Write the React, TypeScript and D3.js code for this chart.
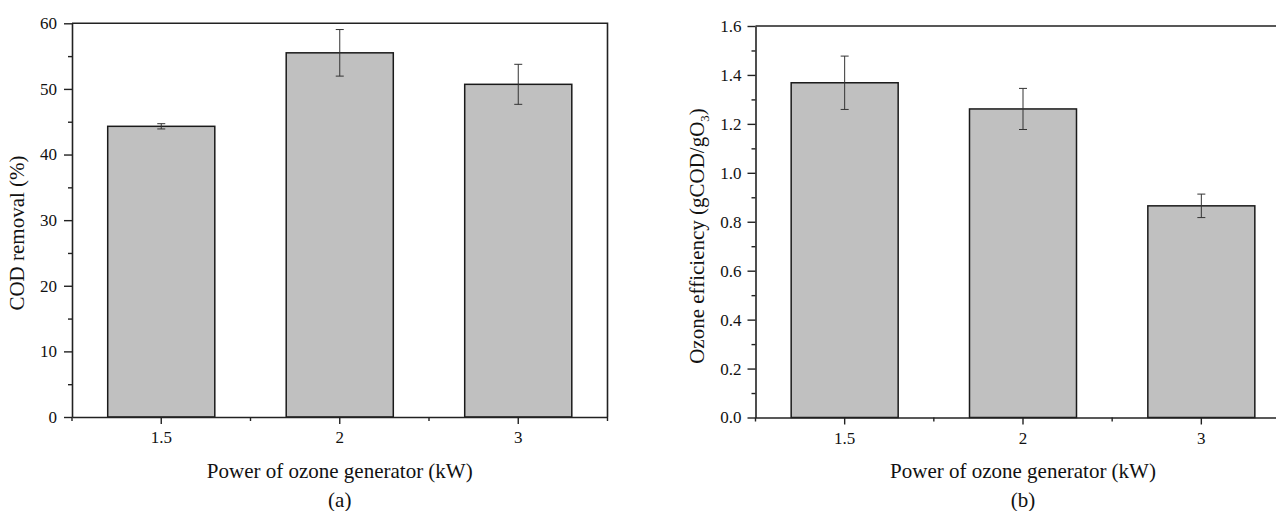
import React, { useEffect, useRef } from 'react';
import * as d3 from 'd3';

const categories = ['1.5', '2', '3'];
const codRemoval = [44.3, 55.5, 50.7];
const codError = [0.4, 3.55, 3.05];
const ozoneEfficiency = [1.368, 1.261, 0.865];
const ozoneError = [0.109, 0.084, 0.048];
const codTicks = [0, 10, 20, 30, 40, 50, 60];
const codMinor = [5, 15, 25, 35, 45, 55];
const effTicks = [0, 0.2, 0.4, 0.6, 0.8, 1.0, 1.2, 1.4, 1.6];
const effMinor = [0.1, 0.3, 0.5, 0.7, 0.9, 1.1, 1.3, 1.5];

const FONT = '"Liberation Serif", "Times New Roman", serif';
const W = 1276;
const H = 511;

const drawPanel = (svg, p) => {
  const x = d3.scaleBand()
    .domain(categories)
    .range([p.left, p.right])
    .paddingInner(0.4)
    .paddingOuter(0.2);

  const y = d3.scaleLinear()
    .domain([0, p.yMax])
    .range([p.bottom, p.top]);

  const g = svg.append('g');

  // bars
  g.selectAll('.bar')
    .data(p.values)
    .enter()
    .append('rect')
    .attr('x', (d, i) => x(categories[i]))
    .attr('y', d => y(d))
    .attr('width', x.bandwidth())
    .attr('height', d => y(0) - y(d))
    .attr('fill', '#c0c0c0')
    .attr('stroke', '#1a1a1a')
    .attr('stroke-width', 1.5);

  // error bars
  const err = g.selectAll('.err')
    .data(p.values)
    .enter()
    .append('g')
    .attr('stroke', '#333')
    .attr('stroke-width', 1);
  const cx = i => x(categories[i]) + x.bandwidth() / 2;
  err.append('line')
    .attr('x1', (d, i) => cx(i)).attr('x2', (d, i) => cx(i))
    .attr('y1', (d, i) => y(d + p.errors[i])).attr('y2', (d, i) => y(d - p.errors[i]));
  err.append('line')
    .attr('x1', (d, i) => cx(i) - 4).attr('x2', (d, i) => cx(i) + 4)
    .attr('y1', (d, i) => y(d + p.errors[i])).attr('y2', (d, i) => y(d + p.errors[i]));
  err.append('line')
    .attr('x1', (d, i) => cx(i) - 4).attr('x2', (d, i) => cx(i) + 4)
    .attr('y1', (d, i) => y(d - p.errors[i])).attr('y2', (d, i) => y(d - p.errors[i]));

  // frame top + right
  g.append('path')
    .attr('d', `M${p.left},${p.top}H${p.right}V${p.bottom}`)
    .attr('fill', 'none')
    .attr('stroke', '#222')
    .attr('stroke-width', 1.6);

  const styleAxis = a => {
    a.select('.domain').attr('stroke', '#222').attr('stroke-width', 1.6);
    a.selectAll('.tick line').attr('stroke', '#222').attr('stroke-width', 1.4);
    a.selectAll('.tick text')
      .attr('font-family', FONT)
      .attr('font-size', 17)
      .attr('fill', '#111');
  };

  // y minor
  g.append('g')
    .attr('transform', `translate(${p.left},0)`)
    .call(d3.axisLeft(y).tickValues(p.minor).tickSize(4).tickFormat(() => ''))
    .call(a => a.select('.domain').remove())
    .call(a => a.selectAll('.tick line').attr('stroke', '#222').attr('stroke-width', 1.4));

  // y major
  g.append('g')
    .attr('transform', `translate(${p.left},0)`)
    .call(d3.axisLeft(y).tickValues(p.ticks).tickSize(8).tickSizeOuter(0).tickPadding(p.pad).tickFormat(p.fmt))
    .call(styleAxis);

  // x minor (category boundaries)
  const bounds = d3.range(categories.length + 1).map(i => p.left + i * x.step());
  g.append('g')
    .selectAll('line')
    .data(bounds)
    .enter()
    .append('line')
    .attr('x1', d => d).attr('x2', d => d)
    .attr('y1', p.bottom).attr('y2', p.bottom + 4)
    .attr('stroke', '#222').attr('stroke-width', 1.4);

  // x major
  g.append('g')
    .attr('transform', `translate(0,${p.bottom})`)
    .call(d3.axisBottom(x).tickSize(7).tickSizeOuter(0).tickPadding(7))
    .call(styleAxis);

  // titles
  g.append('text')
    .attr('x', (p.left + p.right) / 2)
    .attr('y', 478)
    .attr('text-anchor', 'middle')
    .attr('font-family', FONT)
    .attr('font-size', 21)
    .attr('fill', '#111')
    .text('Power of ozone generator (kW)');

  g.append('text')
    .attr('x', (p.left + p.right) / 2)
    .attr('y', 507)
    .attr('text-anchor', 'middle')
    .attr('font-family', FONT)
    .attr('font-size', 21)
    .attr('fill', '#111')
    .text(p.label);

  const yt = g.append('text')
    .attr('transform', `translate(${p.titleX},${p.titleY}) rotate(-90)`)
    .attr('text-anchor', 'middle')
    .attr('font-family', FONT)
    .attr('font-size', 21)
    .attr('fill', '#111');
  p.yTitle(yt);
};

const App = () => {
  const ref = useRef(null);

  useEffect(() => {
    if (!ref.current) return;
    document.body.style.margin = '0';
    d3.select(ref.current).selectAll('*').remove();

    const svg = d3.select(ref.current)
      .append('svg')
      .attr('width', W)
      .attr('height', H)
      .style('display', 'block')
      .style('background', '#fff');

    drawPanel(svg, {
      left: 72, right: 607.5, top: 23.3, bottom: 417,
      yMax: 60,
      values: codRemoval, errors: codError,
      ticks: codTicks, minor: codMinor,
      fmt: d3.format('d'),
      pad: 7,
      label: '(a)',
      titleX: 24, titleY: 233,
      yTitle: t => t.text('COD removal (%)')
    });

    drawPanel(svg, {
      left: 755.5, right: 1290.5, top: 26, bottom: 417.5,
      yMax: 1.6,
      values: ozoneEfficiency, errors: ozoneError,
      ticks: effTicks, minor: effMinor,
      fmt: d3.format('.1f'),
      pad: 6,
      label: '(b)',
      titleX: 704, titleY: 236,
      yTitle: t => {
        t.append('tspan').text('Ozone efficiency (gCOD/gO');
        t.append('tspan').attr('font-size', 13).attr('dy', 5).text('3');
        t.append('tspan').attr('dy', -5).text(')');
      }
    });
  }, []);

  return <div ref={ref} style={{ width: W, height: H, overflow: 'hidden' }}></div>;
};

export default App;
